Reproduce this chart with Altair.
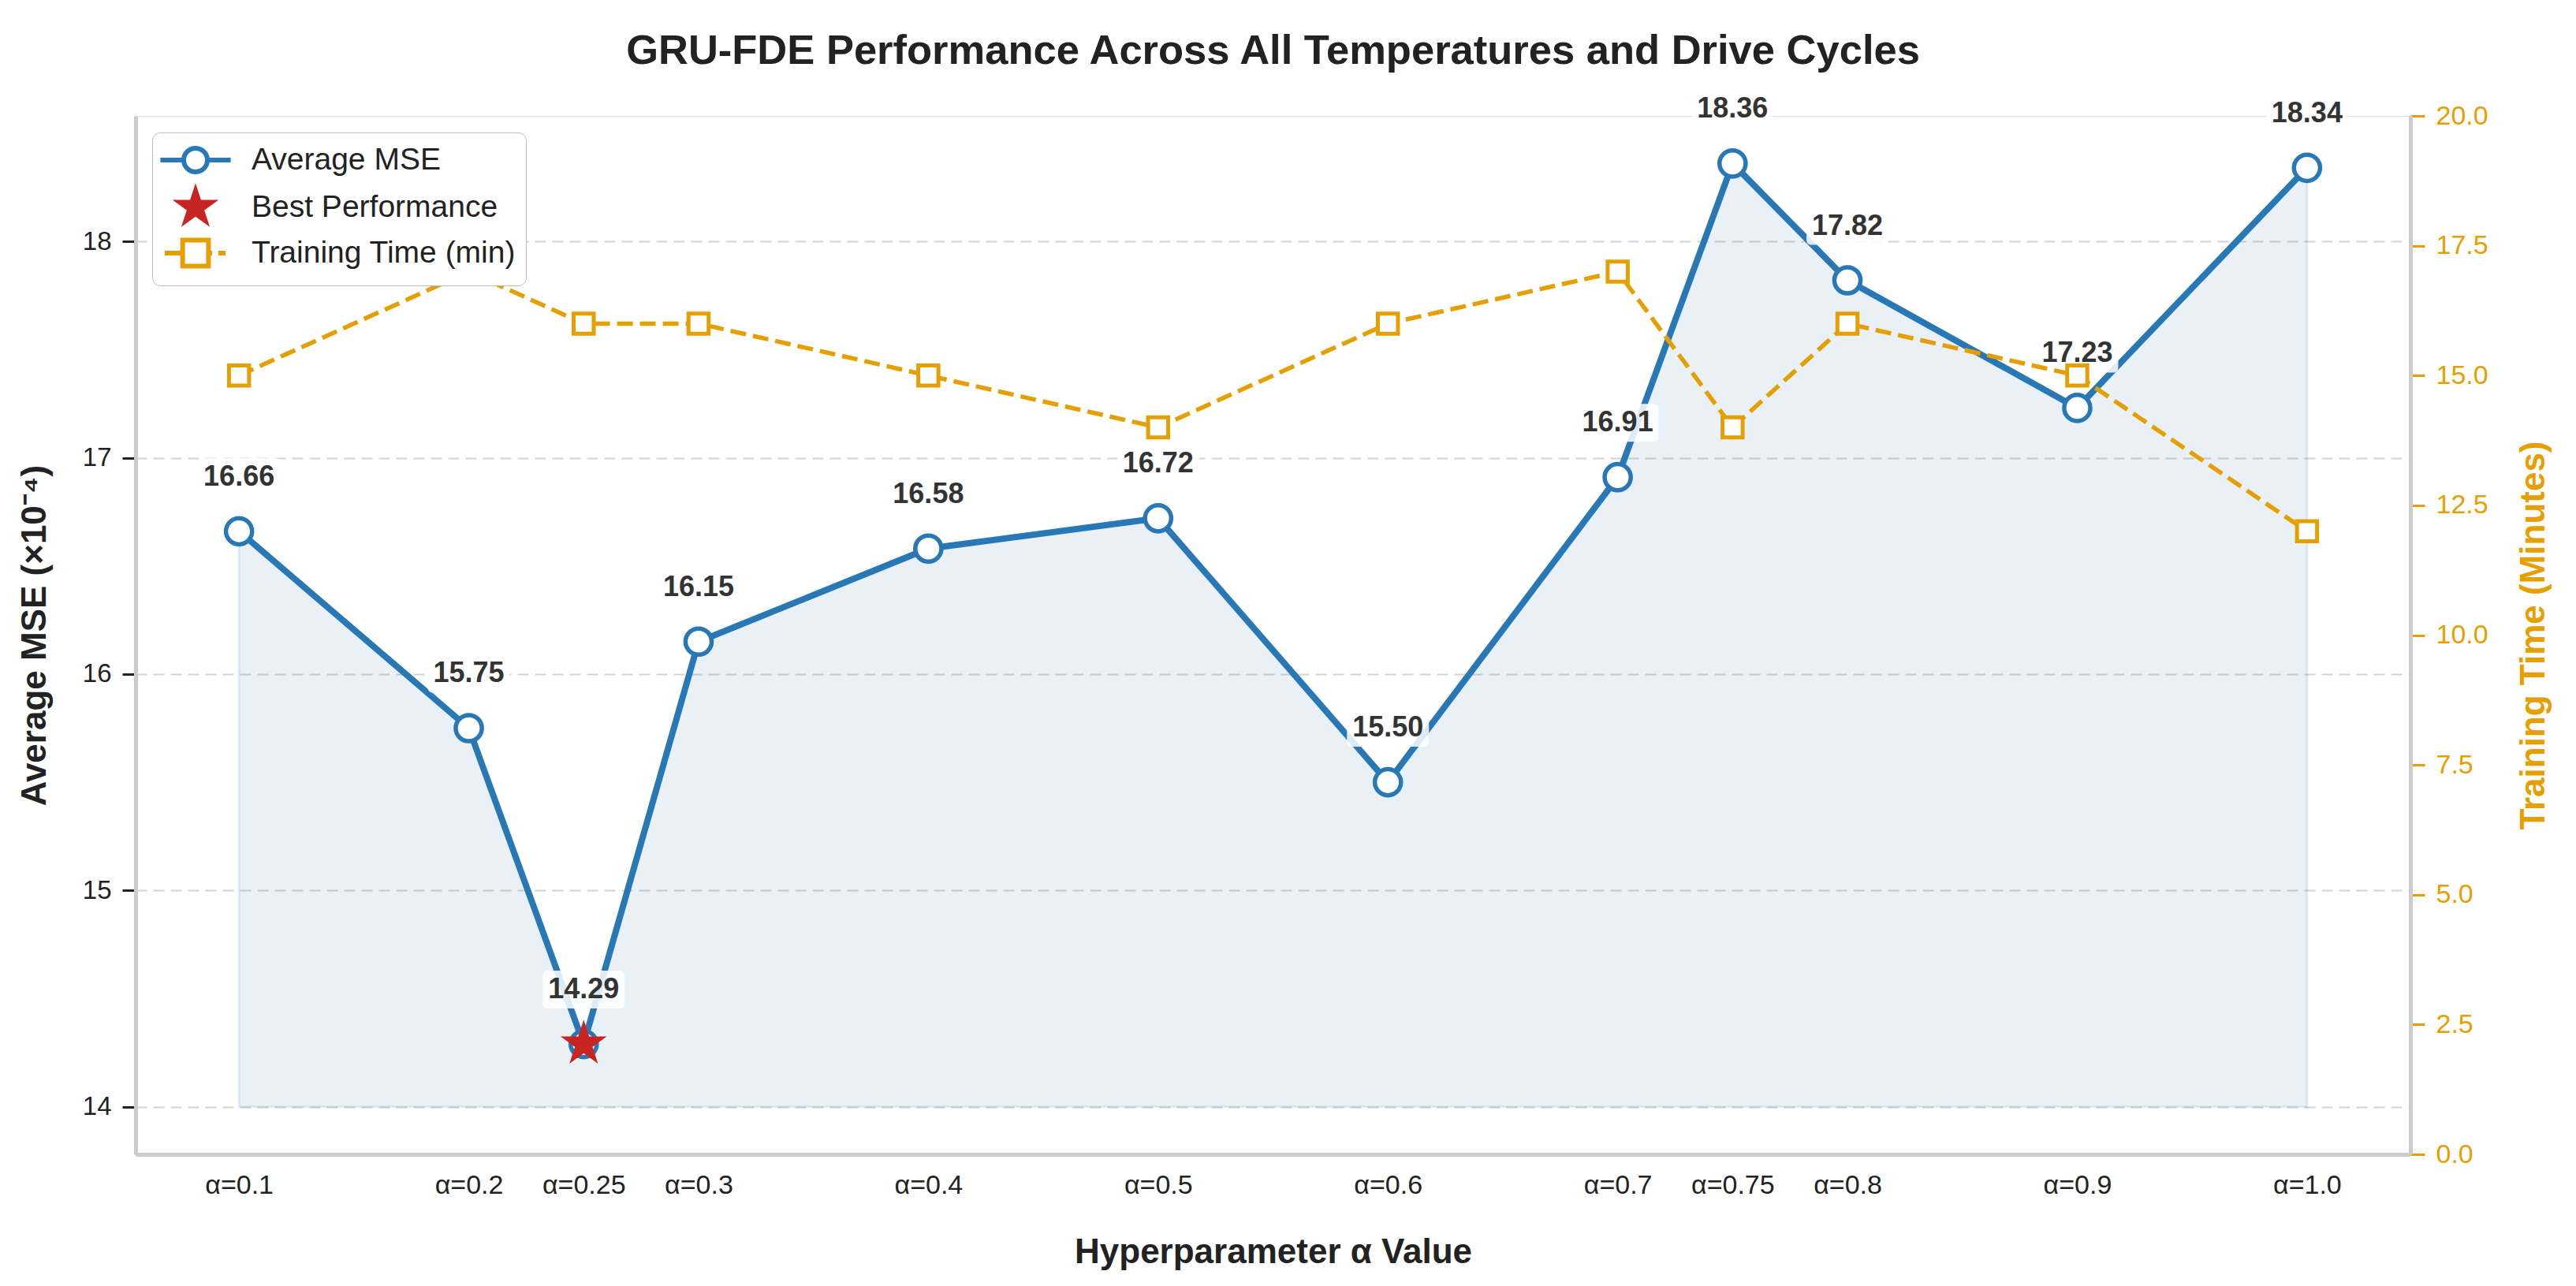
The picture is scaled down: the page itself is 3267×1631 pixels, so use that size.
import math
import altair as alt
import pandas as pd

# ---------------- data ----------------
alphas = [0.1, 0.2, 0.25, 0.3, 0.4, 0.5, 0.6, 0.7, 0.75, 0.8, 0.9, 1.0]
tick_labels = ["α=0.1", "α=0.2", "α=0.25", "α=0.3", "α=0.4", "α=0.5",
               "α=0.6", "α=0.7", "α=0.75", "α=0.8", "α=0.9", "α=1.0"]
mse = [16.66, 15.75, 14.29, 16.15, 16.58, 16.72, 15.50, 16.91, 18.36, 17.82, 17.23, 18.34]
train_time = [15, 17, 16, 16, 15, 14, 16, 17, 14, 16, 15, 12]
best_alpha = 0.25
series = ["Average MSE", "Best Performance", "Training Time (min)"]
mse_ticks = [14, 15, 16, 17, 18]
time_ticks = [0, 2.5, 5, 7.5, 10, 12.5, 15, 17.5, 20]

BLUE = "#2878b5"
ORANGE = "#E69F00"
RED = "#C82423"
FONT = "Liberation Sans"
TXT = "#222222"

df = pd.DataFrame({
    "alpha": alphas,
    "mse": mse,
    "time": train_time,
    "label": [f"{v:.2f}" for v in mse],
})
legend_df = pd.DataFrame({"series": series, "alpha": [alphas[0]] * 3, "mse": [mse[0]] * 3})

# ---------------- symbol paths ----------------
def star_pts(R, r):
    pts = []
    for i in range(10):
        ang = -math.pi / 2 + i * math.pi / 5
        rad = R if i % 2 == 0 else r
        pts.append((rad * math.cos(ang), rad * math.sin(ang)))
    return "M" + "L".join(f"{x:.3f},{y:.3f}" for x, y in pts) + "Z"

STAR = star_pts(1.0, 0.382)
# legend star: concentric outlines so that the stroke paints it solid
LEG_STAR = "".join(star_pts(1.05 * k, 0.40 * k) for k in (1.0, 0.85, 0.7, 0.55, 0.4, 0.25, 0.1))
LEG_CIRCLE = ("M-2.23,0H-0.75M0.75,0H2.23"
              "M0.75,0A0.75,0.75 0 1,1 -0.75,0A0.75,0.75 0 1,1 0.75,0Z")
LEG_SQUARE = "M-1.95,0H-0.82M0.82,0H1.05M1.45,0H1.9M-0.82,-0.82H0.82V0.82H-0.82Z"
BOX = ("M-0.92,-0.48H0.92A0.12,0.12 0 0 1 1.04,-0.36V0.36A0.12,0.12 0 0 1 0.92,0.48"
       "H-0.92A0.12,0.12 0 0 1 -1.04,0.36V-0.36A0.12,0.12 0 0 1 -0.92,-0.48Z")

# ---------------- encodings ----------------
label_expr = "''"
for a, lab in reversed(list(zip(alphas, tick_labels))):
    label_expr = f"abs(datum.value - {a}) < 1e-6 ? '{lab}' : ({label_expr})"

X = alt.X("alpha:Q",
          scale=alt.Scale(domain=[0.055, 1.045], nice=False, zero=False),
          axis=alt.Axis(values=alphas, labelExpr=label_expr, title="Hyperparameter α Value",
                        ticks=False, tickSize=0, grid=False, labelPadding=22,
                        labelFontSize=34, labelFont=FONT, labelColor=TXT,
                        titleFontSize=44, titleFont=FONT, titleFontWeight="bold",
                        titleColor=TXT, titlePadding=46, domainColor="#cccccc",
                        domainWidth=5, labelFlush=False, labelOverlap=False))

Y = alt.Y("mse:Q",
          scale=alt.Scale(domain=[13.78, 18.58], nice=False, zero=False),
          axis=alt.Axis(values=mse_ticks, format="d", title="Average MSE (×10⁻⁴)",
                        grid=True, gridDash=[14, 8], gridColor="#d3d3d3", gridWidth=2,
                        tickColor=TXT, tickSize=17, tickWidth=3, labelPadding=14,
                        labelFontSize=33, labelFont=FONT, labelColor=TXT,
                        titleFontSize=44, titleFont=FONT, titleFontWeight="bold",
                        titleColor=TXT, titlePadding=38, domainColor="#cccccc",
                        domainWidth=5))

Y2 = alt.Y("time:Q",
           scale=alt.Scale(domain=[0, 20], nice=False, zero=True),
           axis=alt.Axis(orient="right", values=time_ticks, format=".1f",
                         title="Training Time (Minutes)", grid=False,
                         tickColor=ORANGE, tickSize=18, tickWidth=3, labelPadding=14,
                         labelFontSize=34, labelFont=FONT, labelColor=ORANGE,
                         titleFontSize=44, titleFont=FONT, titleFontWeight="bold",
                         titleColor=ORANGE, titlePadding=80, titleAngle=270,
                         domainColor="#cccccc", domainWidth=5))

base = alt.Chart(df)

area = base.mark_area(color=BLUE, fillOpacity=0.1, stroke=BLUE, strokeOpacity=0.12,
                      strokeWidth=3).encode(x=X, y=Y, y2=alt.datum(14))
line = base.mark_line(color=BLUE, strokeWidth=8).encode(x=X, y=Y)
circles = base.mark_point(shape="circle", filled=True, fill="white", stroke=BLUE,
                          strokeWidth=5.5, size=1100, opacity=1).encode(x=X, y=Y)
star = base.transform_filter(f"abs(datum.alpha - {best_alpha}) < 1e-6").mark_point(
    shape=STAR, filled=True, color=RED, size=3800, opacity=1).encode(x=X, y=Y)
boxes = base.mark_point(shape=BOX, filled=True, color="white", opacity=0.85,
                        size=10000, yOffset=-69, strokeWidth=0).encode(x=X, y=Y)
labels = base.mark_text(dy=-69, fontSize=36, fontWeight="bold", font=FONT,
                        color="#333333", baseline="middle").encode(x=X, y=Y, text="label:N")

leg = alt.Legend(title=None, orient="top-left", offset=21, padding=12,
                 fillColor="white", strokeColor="#bbbbbb", cornerRadius=10,
                 labelFontSize=39, labelFont=FONT, labelColor=TXT,
                 symbolSize=1600, symbolStrokeWidth=6, symbolOffset=20,
                 symbolFillColor="white",
                 labelOffset=48, rowPadding=0, labelLimit=0)

legend_layer = alt.Chart(legend_df).mark_point(filled=True, opacity=0, strokeWidth=6,
                                               size=1600).encode(
    x=X, y=Y,
    fill=alt.Fill("series:N", scale=alt.Scale(domain=series, range=["white", RED, "white"]), legend=leg),
    stroke=alt.Stroke("series:N", scale=alt.Scale(domain=series, range=[BLUE, RED, ORANGE]), legend=leg),
    shape=alt.Shape("series:N", scale=alt.Scale(domain=series, range=[LEG_CIRCLE, LEG_STAR, LEG_SQUARE]), legend=leg),
)

left = alt.layer(area, line, circles, star, boxes, labels, legend_layer)

tline = base.mark_line(color=ORANGE, strokeWidth=5.5, strokeDash=[20, 9]).encode(x=X, y=Y2)
tsq = base.mark_point(shape="square", filled=True, fill="white", stroke=ORANGE,
                      strokeWidth=5, size=650, opacity=1).encode(x=X, y=Y2)
right = alt.layer(tline, tsq)

chart = alt.layer(left, right).resolve_scale(y="independent").properties(
    width=2885, height=1317,
    padding={"left": 14, "top": 30, "right": 10, "bottom": 10},
    title=alt.TitleParams("GRU-FDE Performance Across All Temperatures and Drive Cycles",
                          fontSize=52.5, font=FONT, fontWeight="bold", color=TXT,
                          anchor="middle", offset=22),
).configure_view(stroke=None).configure(background="white")

chart.save("out.html", embed_options={"renderer": "svg", "actions": False})
